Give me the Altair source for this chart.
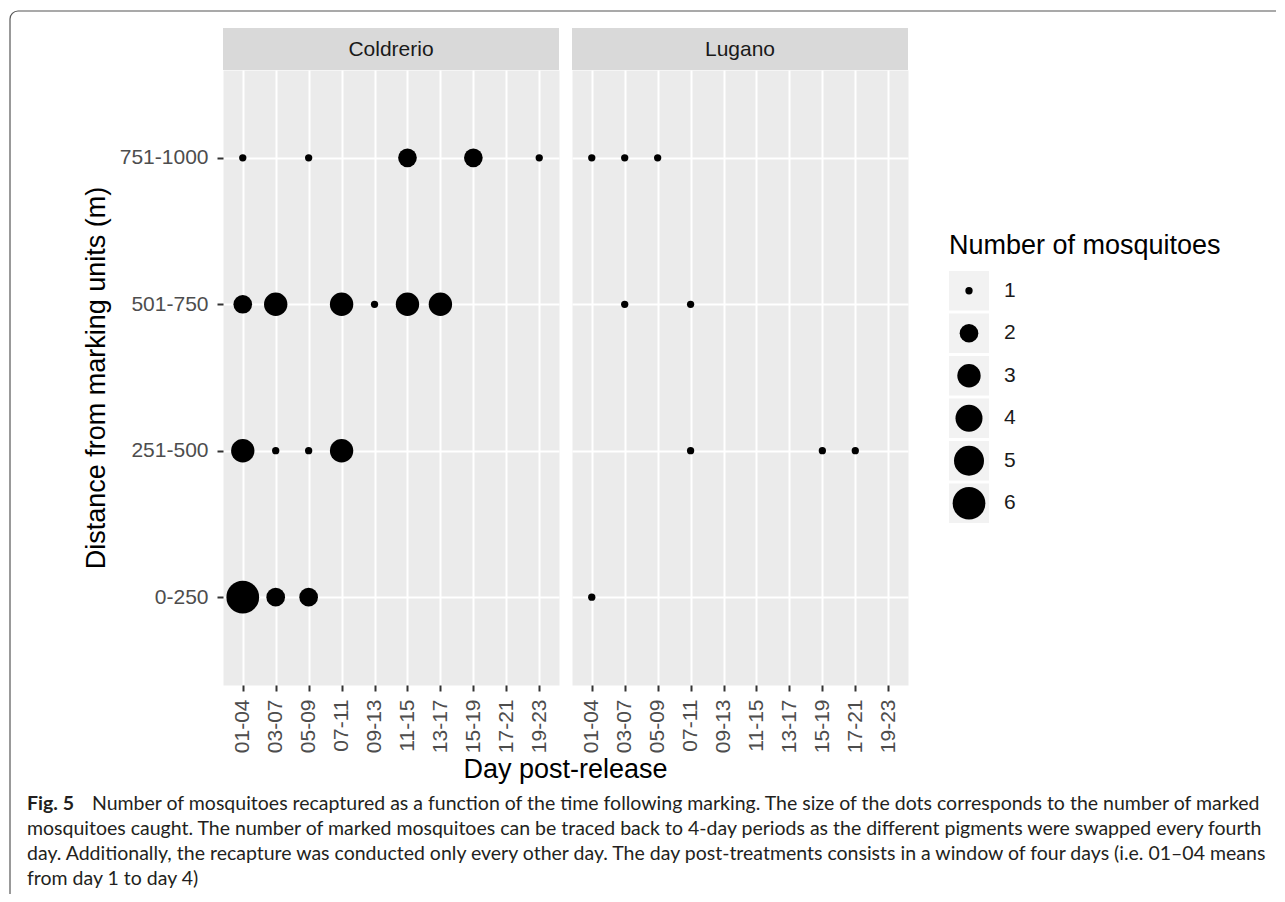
import math
import altair as alt
import pandas as pd

# ---------------- data ----------------
sites = ["Coldrerio", "Lugano"]
periods = ["01-04", "03-07", "05-09", "07-11", "09-13", "11-15", "13-17", "15-19", "17-21", "19-23"]
distances = ["751-1000", "501-750", "251-500", "0-250"]

col_period = ["01-04", "05-09", "11-15", "15-19", "19-23",
              "01-04", "03-07", "07-11", "09-13", "11-15", "13-17",
              "01-04", "03-07", "05-09", "07-11",
              "01-04", "03-07", "05-09"]
col_distance = ["751-1000"] * 5 + ["501-750"] * 6 + ["251-500"] * 4 + ["0-250"] * 3
col_count = [1, 1, 2, 2, 1,
             2, 3, 3, 1, 3, 3,
             3, 1, 1, 3,
             6, 2, 2]

lug_period = ["01-04", "03-07", "05-09",
              "03-07", "07-11",
              "07-11", "15-19", "17-21",
              "01-04"]
lug_distance = ["751-1000"] * 3 + ["501-750"] * 2 + ["251-500"] * 3 + ["0-250"]
lug_count = [1, 1, 1, 1, 1, 1, 1, 1, 1]

legend_values = [1, 2, 3, 4, 5, 6]
legend_title = "Number of mosquitoes"
x_title = "Day post-release"
y_title = "Distance from marking units (m)"

caption_bold = "Fig. 5"
caption_lines = [
    "Number of mosquitoes recaptured as a function of the time following marking. The size of the dots corresponds to the number of marked",
    "mosquitoes caught. The number of marked mosquitoes can be traced back to 4-day periods as the different pigments were swapped every fourth",
    "day. Additionally, the recapture was conducted only every other day. The day post-treatments consists in a window of four days (i.e. 01\u201304 means",
    "from day 1 to day 4)",
]

# ---------------- style ----------------
FONT = "Liberation Sans"
CAP_FONT = "Lato"
CAP_SIZE = 19.5
TITLE_SIZE = 27
TEXT_SIZE = 21
W, H = 336, 615
STRIP_H = 42
D_MIN, D_MAX = 7.3, 32.7
# ggplot2 area palette: diameter grows with sqrt of rescaled value; vega size = diameter^2
size_range = [(D_MIN + (D_MAX - D_MIN) * math.sqrt((v - 1) / 5)) ** 2 for v in legend_values]
size_scale = alt.Scale(domain=legend_values, range=size_range)

coldrerio = pd.DataFrame({"period": col_period, "distance": col_distance, "count": col_count})
lugano = pd.DataFrame({"period": lug_period, "distance": lug_distance, "count": lug_count})
one = pd.DataFrame({"k": [0]})


def panel(site, df, first):
    xaxis = alt.Axis(title=None, labelAngle=270, labelFont=FONT, labelFontSize=TEXT_SIZE,
                     labelColor="#4D4D4D", labelPadding=8, tickSize=6, tickWidth=2,
                     tickColor="#333333", domain=False, grid=True, gridColor="white",
                     gridWidth=2, labelOverlap=False)
    if first:
        yaxis = alt.Axis(title=y_title, titleFont=FONT, titleFontSize=TITLE_SIZE,
                         titleFontWeight="normal", titleColor="black", titlePadding=9,
                         labelFont=FONT, labelFontSize=TEXT_SIZE, labelColor="#4D4D4D",
                         labelPadding=9, tickSize=6, tickWidth=2, tickColor="#333333",
                         domain=False, grid=True, gridColor="white", gridWidth=2)
    else:
        yaxis = alt.Axis(title=None, labels=False, ticks=False, domain=False, grid=True,
                         gridColor="white", gridWidth=2)
    xenc = alt.X("period:O", scale=alt.Scale(type="point", domain=periods, padding=0.6), axis=xaxis)
    yenc = alt.Y("distance:O", scale=alt.Scale(type="point", domain=distances, padding=0.6), axis=yaxis)

    pts = alt.Chart(df).mark_circle(color="black", opacity=1).encode(
        x=xenc, y=yenc, size=alt.Size("count:Q", scale=size_scale, legend=None))

    strip_df = pd.DataFrame({"site": [site]})
    strip = alt.Chart(strip_df).mark_rect(color="#D9D9D9").encode(
        x=alt.value(0), x2=alt.value(W), y=alt.value(-STRIP_H), y2=alt.value(0))
    strip_text = alt.Chart(strip_df).mark_text(
        font=FONT, fontSize=TEXT_SIZE, color="#1A1A1A", baseline="middle", align="center").encode(
        x=alt.value(W / 2), y=alt.value(-STRIP_H / 2 + 1), text="site:N")
    layers = [strip, strip_text, pts]

    if first:
        # shared x-axis title centred under both panels
        xt = alt.Chart(one).mark_text(font=FONT, fontSize=TITLE_SIZE, color="black", align="center",
                                      baseline="alphabetic").encode(
            x=alt.value(342.5), y=alt.value(708), text=alt.value(x_title))
        layers.append(xt)
        # caption
        cap_x = 26 - 222
        cap_y = 740
        fig = alt.Chart(one).mark_text(font=CAP_FONT, fontSize=CAP_SIZE, fontWeight="bold",
                                       color="#231F20", align="left", baseline="alphabetic").encode(
            x=alt.value(cap_x), y=alt.value(cap_y), text=alt.value(caption_bold))
        layers.append(fig)
        for i, line in enumerate(caption_lines):
            lx = 91 - 222 if i == 0 else cap_x
            layers.append(alt.Chart(one).mark_text(
                font=CAP_FONT, fontSize=CAP_SIZE, color="#231F20", align="left",
                baseline="alphabetic").encode(
                x=alt.value(lx), y=alt.value(cap_y + 25 * i), text=alt.value(line)))
        # frame (top and left edges with a rounded corner)
        xb, yb, r = -213, -59, 8
        layers.append(alt.Chart(one).mark_rule(color="#555555", strokeWidth=1.2).encode(
            x=alt.value(xb + r), x2=alt.value(1275 - 222), y=alt.value(yb)))
        layers.append(alt.Chart(one).mark_rule(color="#555555", strokeWidth=1.2).encode(
            x=alt.value(xb), y=alt.value(yb + r), y2=alt.value(824)))
        layers.append(alt.Chart(one).mark_arc(
            radius=r + 0.6, radius2=r - 0.6, theta=3 * math.pi / 2, theta2=2 * math.pi,
            color="#555555").encode(x=alt.value(xb + r), y=alt.value(yb + r)))

    return alt.layer(*layers).properties(
        width=W, height=H, view=alt.ViewBackground(fill="#EBEBEB", strokeOpacity=0))


# ---------------- legend (drawn from the size scale) ----------------
leg_df = pd.DataFrame({"n": legend_values})
leg_y = alt.Y("n:O", scale=alt.Scale(type="band", domain=legend_values, range=[201, 453],
                                     paddingInner=0.07, paddingOuter=0), axis=None)
leg_keys = alt.Chart(leg_df).mark_rect(color="#F2F2F2").encode(
    x=alt.value(28), x2=alt.value(68), y=leg_y)
leg_dots = alt.Chart(leg_df).mark_circle(color="black", opacity=1).encode(
    x=alt.value(48), y=leg_y, size=alt.Size("n:Q", scale=size_scale, legend=None))
leg_labels = alt.Chart(leg_df).mark_text(font=FONT, fontSize=TEXT_SIZE, color="#1A1A1A",
                                         align="left", baseline="middle").encode(
    x=alt.value(83), y=leg_y, text="n:N")
leg_title = alt.Chart(one).mark_text(font=FONT, fontSize=TITLE_SIZE, color="black", align="left",
                                     baseline="alphabetic").encode(
    x=alt.value(28), y=alt.value(184), text=alt.value(legend_title))
legend = alt.layer(leg_keys, leg_dots, leg_labels, leg_title).properties(
    width=340, height=H, view=alt.ViewBackground(strokeOpacity=0, fillOpacity=0))

chart = alt.hconcat(
    panel(sites[0], coldrerio, True),
    panel(sites[1], lugano, False),
    legend,
    spacing=13,
    bounds="flush",
).resolve_scale(x="independent", y="independent").properties(
    padding={"left": 1, "top": 2, "right": 0, "bottom": 0}
).configure_view(strokeOpacity=0).configure(background="white")

chart.save("out.html", embed_options={"renderer": "svg", "actions": False})
